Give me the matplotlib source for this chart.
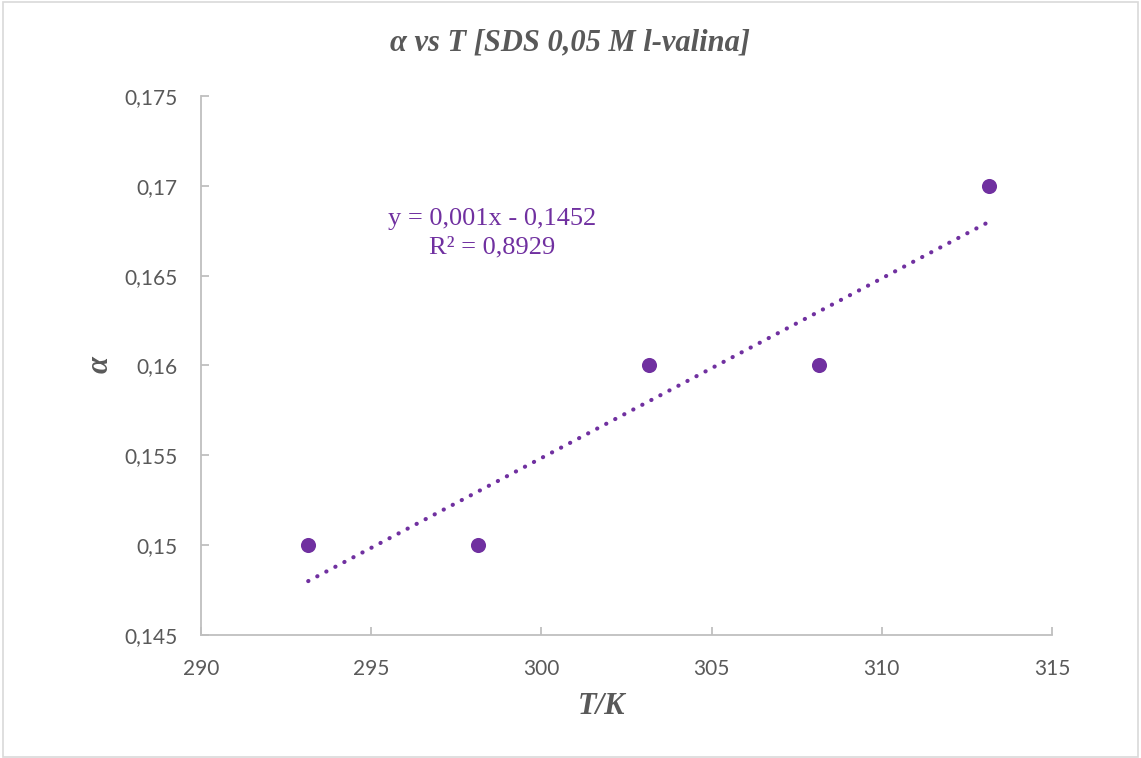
import numpy as np
import matplotlib
matplotlib.use("Agg")
import matplotlib.pyplot as plt
from matplotlib.patches import Rectangle

# Data
T = [293.15, 298.15, 303.15, 308.15, 313.15]
alpha = [0.15, 0.15, 0.16, 0.16, 0.17]
xticks = [290, 295, 300, 305, 310, 315]
yticks = [0.145, 0.15, 0.155, 0.16, 0.165, 0.17, 0.175]
ytick_labels = ["0,145", "0,15", "0,155", "0,16", "0,165", "0,17", "0,175"]
title = "α vs T [SDS 0,05 M l-valina]"
xlabel = "T/K"
ylabel = "α"
eq_text = "y = 0,001x - 0,1452\nR² = 0,8929"

purple = "#7030A0"
grey_axis = "#BFBFBF"
text_grey = "#595959"

W, H = 1141, 758
fig = plt.figure(figsize=(W / 100, H / 100), dpi=100)
fig.patch.set_facecolor("white")
fig.patches.append(Rectangle((3 / W, 1 / H), (W - 6) / W, (H - 3) / H, transform=fig.transFigure,
                             fill=False, edgecolor="#D9D9D9", linewidth=1.2))

left, right, top, bottom = 201, 1052, 96, 635
ax = fig.add_axes([left / W, 1 - bottom / H, (right - left) / W, (bottom - top) / H])

ax.scatter(T, alpha, s=118, color=purple, zorder=3, linewidths=0)

coef = np.polyfit(T, alpha, 1)
xs = np.array([T[0], T[-1]])
ax.plot(xs, np.polyval(coef, xs), color=purple, linestyle=(0, (0.05, 2.4)), linewidth=3.0,
        dash_capstyle="round", solid_capstyle="round", zorder=2)

ax.set_xlim(290, 315)
ax.set_ylim(0.145, 0.175)
ax.set_xticks(xticks)
ax.set_xticklabels([str(v) for v in xticks])
ax.set_yticks(yticks)
ax.set_yticklabels(ytick_labels)

for side in ["top", "right"]:
    ax.spines[side].set_visible(False)
for side in ["left", "bottom"]:
    ax.spines[side].set_color(grey_axis)
    ax.spines[side].set_linewidth(1.3)

ax.tick_params(axis="both", direction="in", length=6, width=1.3, color=grey_axis,
               labelsize=15, labelcolor=text_grey)
ax.tick_params(axis="x", pad=17)
ax.tick_params(axis="y", pad=17)
for lab in ax.get_xticklabels() + ax.get_yticklabels():
    lab.set_fontfamily("Lato")

fig.text(570 / W, 1 - 43 / H, title, ha="center", va="center", fontsize=22,
         fontfamily="Liberation Serif", fontweight="bold", fontstyle="italic", color=text_grey)
fig.text(602 / W, 1 - 706 / H, xlabel, ha="center", va="center", fontsize=22,
         fontfamily="Liberation Serif", fontweight="bold", fontstyle="italic", color=text_grey)
fig.text(100 / W, 1 - 365 / H, ylabel, ha="center", va="center", fontsize=22, rotation=90,
         fontfamily="Liberation Serif", fontweight="bold", fontstyle="italic", color=text_grey)

fig.text(492 / W, 1 - 233 / H, eq_text, ha="center", va="center", fontsize=19,
         fontfamily="Liberation Serif", color=purple, linespacing=1.35)

fig.savefig("out.png", dpi=100)
